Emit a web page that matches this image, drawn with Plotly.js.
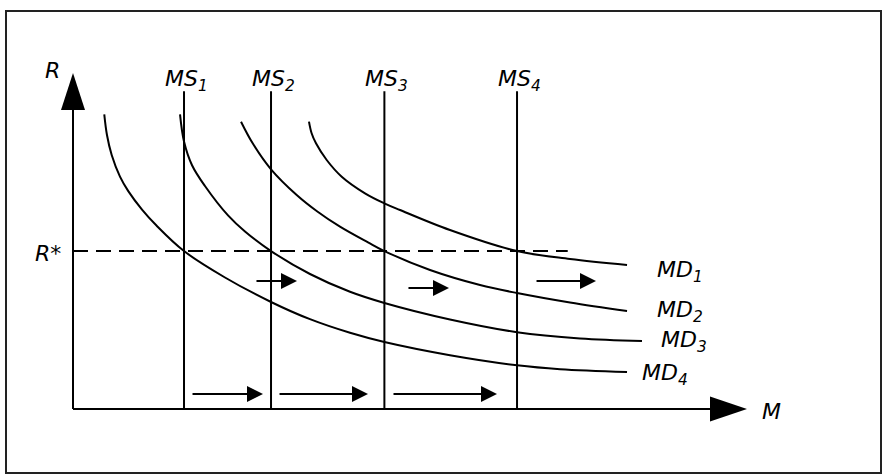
<!DOCTYPE html>
<html>
<head>
<meta charset="utf-8">
<script src="https://cdn.plot.ly/plotly-3.0.1.min.js"></script>
<style>html,body{margin:0;padding:0;background:#fff;}#chart{width:885px;height:475px;}</style>
</head>
<body>
<div id="chart"></div>
<script>
// ---- data (M on x, R on y, axis tips at 100) ----
const msLabels = ['MS<sub>1</sub>', 'MS<sub>2</sub>', 'MS<sub>3</sub>', 'MS<sub>4</sub>'];
const msX = [16.47, 29.38, 46.2, 65.88];
const msTop = 94.6;

const rStar = 47.0;
const rStarEnd = 73.4;

const md1X = [35.01, 35.39, 36.05, 37.64, 39.87, 43.32, 46.19, 48.52, 55.93, 65.88, 73.74, 82.20];
const md1Y = [85.51, 82.14, 79.08, 74.11, 69.14, 64.20, 61.22, 59.23, 53.27, 47.0, 44.64, 42.86];

const md2X = [24.93, 26.66, 29.38, 33.19, 36.25, 39.61, 43.77, 46.2, 52.97, 60.39, 65.88, 73.74, 82.20];
const md2Y = [85.51, 79.08, 71.34, 63.69, 58.78, 54.26, 49.58, 47.0, 41.37, 36.90, 34.52, 31.70, 29.17];

const md3X = [15.88, 16.47, 17.66, 19.58, 23.00, 25.52, 29.38, 35.16, 41.10, 46.2, 55.93, 65.88, 75.22, 84.42];
const md3Y = [87.71, 79.61, 72.56, 66.37, 57.62, 52.83, 47.0, 40.18, 34.88, 31.55, 26.64, 22.86, 21.01, 20.24];

const md4X = [4.64, 5.04, 5.74, 6.97, 8.20, 10.24, 12.42, 16.47, 22.55, 29.38, 35.16, 41.10, 46.2, 55.93, 65.88, 72.26, 82.20];
const md4Y = [87.71, 81.55, 75.60, 69.17, 64.85, 59.35, 54.52, 47.0, 39.14, 31.85, 26.73, 22.68, 19.94, 16.01, 13.01, 11.85, 11.01];

const mdLabels = ['MD<sub>1</sub>', 'MD<sub>2</sub>', 'MD<sub>3</sub>', 'MD<sub>4</sub>'];

// shift arrows (from -> to)
const midArrowFrom = [27.0, 49.55, 68.55];
const midArrowTo   = [33.23, 55.79, 77.60];
const midArrowY    = [38.10, 36.01, 38.10];
const lowArrowFrom = [17.51, 30.42, 47.33];
const lowArrowTo   = [28.19, 43.77, 62.91];
const lowArrowY    = 4.46;

// ---- geometry / styling ----
const W = 885, H = 475;
const originPx = [73, 409];      // pixel position of the axis origin
const pxPerX = 6.74, pxPerY = 3.36;
const xRange = [-originPx[0] / pxPerX, (W - originPx[0]) / pxPerX];
const yRange = [-(H - originPx[1]) / pxPerY, originPx[1] / pxPerY];
const LW = 2;
const FONT = {family: 'DejaVu Sans, Verdana, sans-serif', size: 22, color: '#000', style: 'italic'};

const traces = [];
const line = (x, y, extra) => traces.push(Object.assign({
  x: x, y: y, type: 'scatter', mode: 'lines', hoverinfo: 'skip', showlegend: false,
  line: {color: '#000', width: LW}
}, extra || {}));

// axes
line([0, 0], [0, 92]);
line([0, 96], [0, 0]);
// R* dashed
line([0, rStarEnd], [rStar, rStar], {line: {color: '#000', width: LW, dash: '15px,8px'}});
// MS verticals
msX.forEach(x => line([x, x], [0, msTop]));
// MD curves
[[md1X, md1Y], [md2X, md2Y], [md3X, md3Y], [md4X, md4Y]].forEach(([x, y]) =>
  line(x, y, {line: {color: '#000', width: LW, shape: 'spline', smoothing: 1}}));

const annotations = [];
const arrow = (x0, x1, y) => annotations.push({
  x: x1, y: y, ax: x0, ay: y, xref: 'x', yref: 'y', axref: 'x', ayref: 'y',
  text: '', showarrow: true, arrowhead: 2, arrowsize: 1.6, arrowwidth: LW, arrowcolor: '#000',
  standoff: 0
});
midArrowFrom.forEach((x0, i) => arrow(x0, midArrowTo[i], midArrowY[i]));
lowArrowFrom.forEach((x0, i) => arrow(x0, lowArrowTo[i], lowArrowY));

const label = (text, x, y, xanchor, yanchor) => annotations.push({
  text: text, x: x, y: y, xref: 'x', yref: 'y', showarrow: false,
  xanchor: xanchor || 'center', yanchor: yanchor || 'middle', font: FONT
});
msLabels.forEach((t, i) => label(t, msX[i] + 0.3, 97.8, 'center', 'middle'));
const mdLabelX = [86.3, 86.3, 86.9, 84.1];
const mdLabelY = [41.0, 29.1, 20.0, 10.2];
mdLabels.forEach((t, i) => label(t, mdLabelX[i], mdLabelY[i], 'left', 'middle'));
label('R', -3.0, 100.8, 'center', 'middle');
label('R*', -3.7, rStar - 0.7, 'center', 'middle');
label('M', 103.6, -0.6, 'center', 'middle');

const shapes = [
  // outer frame
  {type: 'rect', xref: 'paper', yref: 'paper', x0: 6 / W, x1: 881 / W, y0: 1 - 473 / H, y1: 1 - 11 / H,
   line: {color: '#222', width: 2}},
  // y-axis arrow head
  {type: 'path', xref: 'x', yref: 'y', xsizemode: 'pixel', ysizemode: 'pixel', xanchor: 0, yanchor: 100,
   path: 'M0,0 L-12,-37 L12,-37 Z', fillcolor: '#000', line: {width: 0}},
  // x-axis arrow head
  {type: 'path', xref: 'x', yref: 'y', xsizemode: 'pixel', ysizemode: 'pixel', xanchor: 100, yanchor: 0,
   path: 'M0,0 L-37,12.5 L-37,-12.5 Z', fillcolor: '#000', line: {width: 0}}
];

const layout = {
  width: W, height: H,
  margin: {l: 0, r: 0, t: 0, b: 0, pad: 0},
  paper_bgcolor: '#fff', plot_bgcolor: '#fff',
  xaxis: {range: xRange, visible: false, fixedrange: true},
  yaxis: {range: yRange, visible: false, fixedrange: true},
  showlegend: false,
  annotations: annotations,
  shapes: shapes
};

Plotly.newPlot('chart', traces, layout, {displayModeBar: false, staticPlot: true});
</script>
</body>
</html>
